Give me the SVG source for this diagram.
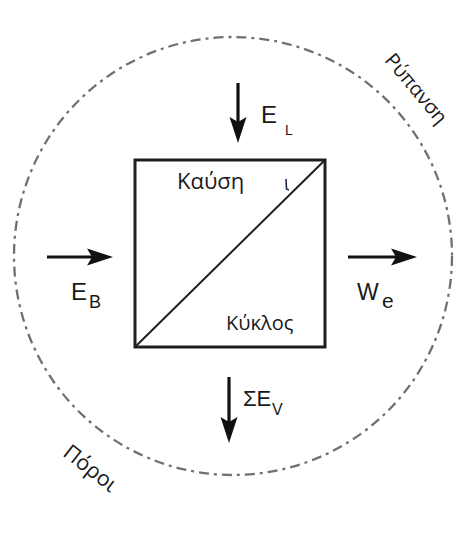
<svg xmlns="http://www.w3.org/2000/svg" width="456" height="536" viewBox="0 0 456 536">
  <style>
    .bound { fill: none; stroke: #707070; stroke-width: 2.3; stroke-dasharray: 10 5 3 5; }
    .box { fill: none; stroke: #1e1e1e; stroke-width: 3; }
    .diag { stroke: #1e1e1e; stroke-width: 2; }
    .arrow { stroke: #111; stroke-width: 3.2; fill: none; marker-end: url(#head); }
    .gr { font-family: "Open Sans", "Noto Sans", "DejaVu Sans", sans-serif; fill: #1a1a1a; }
    .sym { font-family: "Liberation Sans", Arial, sans-serif; fill: #1a1a1a; }
  </style>
  <defs>
    <marker id="head" markerUnits="userSpaceOnUse" markerWidth="28" markerHeight="20" refX="12" refY="9" orient="auto" viewBox="0 0 28 18">
      <path d="M0,0.5 L26,9 L0,17.5 L5,9 Z" fill="#111"/>
    </marker>
  </defs>
  <rect width="456" height="536" fill="#ffffff"/>

  <g id="boundary">
    <circle class="bound" cx="233" cy="256" r="219"/>
    <text class="gr" font-size="20" text-anchor="middle" transform="translate(411,93) rotate(50)">Ρύπανση</text>
    <text class="gr" font-size="21.5" text-anchor="middle" transform="translate(86,474) rotate(38)">Πόροι</text>
  </g>

  <g id="system">
    <rect class="box" x="135" y="160" width="190" height="187"/>
    <line class="diag" x1="135" y1="347" x2="325" y2="160"/>
    <text class="gr" font-size="22" x="177" y="189">Καύση</text>
    <path d="M286,179 L286.5,189 L289,190" fill="none" stroke="#1a2a4a" stroke-width="1.6"/>
    <text class="gr" font-size="20" x="226" y="330">Κύκλος</text>
  </g>

  <g id="connectors">
    <line class="arrow" x1="238" y1="83" x2="238" y2="129"/>
    <line class="arrow" x1="47" y1="257" x2="99" y2="257"/>
    <line class="arrow" x1="348" y1="257" x2="403" y2="257"/>
    <line class="arrow" x1="229" y1="377" x2="229" y2="429"/>
  </g>

  <g id="label-EL">
    <text class="sym" font-size="24" x="261" y="123">E</text>
    <text class="sym" font-size="14" x="285" y="135">L</text>
  </g>
  <g id="label-EB">
    <text class="sym" font-size="24" x="71" y="300">E</text>
    <text class="sym" font-size="18" x="89" y="308">B</text>
  </g>
  <g id="label-We">
    <text class="sym" font-size="23" x="357" y="300">W</text>
    <text class="sym" font-size="21" x="382" y="308">e</text>
  </g>
  <g id="label-EV">
    <text class="sym" font-size="22" x="243" y="406">ΣE</text>
    <text class="sym" font-size="16" x="272" y="415">V</text>
  </g>
</svg>
